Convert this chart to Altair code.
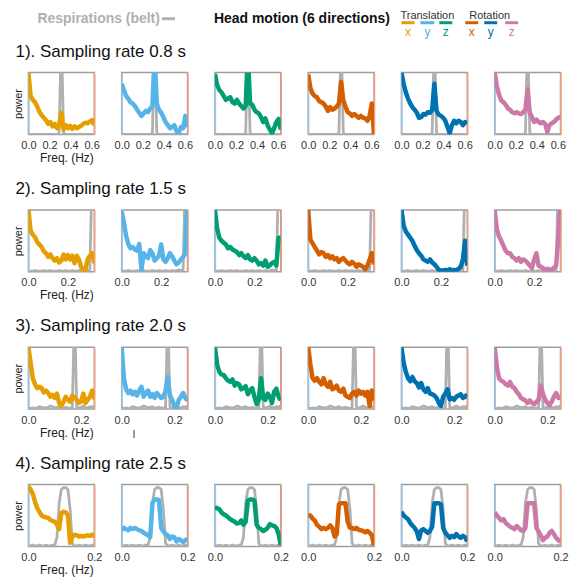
import altair as alt
import numpy as np
import pandas as pd

FONT = "Liberation Sans"

# ---------------- data ----------------
row_titles = ["1). Sampling rate 0.8 s", "2). Sampling rate 1.5 s",
              "3). Sampling rate 2.0 s", "4). Sampling rate 2.5 s"]
nyquist = [0.625, 1 / 3, 0.25, 0.2]
tick_values = [[0.0, 0.2, 0.4, 0.6], [0.0, 0.2], [0.0, 0.2], [0.0, 0.2]]
directions = ["Translation x", "Translation y", "Translation z",
              "Rotation x", "Rotation y", "Rotation z"]
colors = ["#E69F00", "#56B4E9", "#009E73", "#D55E00", "#0072B2", "#CC79A7"]

# respiration (belt) spectra, normalised power
resp_r1 = [0.0, 0.0, 0.0, 0.0, 0.0, 0.0, 0.0, 0.0, 0.0, 0.0, 0.0, 0.0, 0.0, 0.0, 0.02, 1.6,
           0.02, 0.0, 0.0, 0.0, 0.0, 0.0, 0.0, 0.0, 0.0, 0.0, 0.0, 0.0, 0.0, 0.0, 0.0]
resp_r2 = [0.01, 0.01, 0.01, 0.02, 0.01, 0.01, 0.01, 0.02, 0.01, 0.01, 0.02, 0.01, 0.01, 0.01, 0.02, 0.01,
           0.01, 0.02, 0.01, 0.01, 0.02, 0.01, 0.01, 0.02, 0.01, 0.02, 0.03, 0.02, 0.03, 1.6, 1.0]
resp_r3 = [0.01, 0.01, 0.02, 0.01, 0.02, 0.04, 0.03, 0.02, 0.02, 0.03, 0.05, 0.04, 0.02, 0.03, 0.04, 0.02,
           0.02, 0.03, 0.02, 0.01, 0.03, 1.6, 0.03, 0.02, 0.03, 0.05, 0.03, 0.02, 0.04, 0.03, 0.05]
resp_r4 = [0.01, 0.01, 0.02, 0.01, 0.01, 0.02, 0.01, 0.01, 0.02, 0.01, 0.01, 0.02, 0.02, 0.15, 0.7, 0.92,
           0.95, 0.95, 0.92, 0.6, 0.05, 0.01, 0.01, 0.02, 0.01, 0.01, 0.02, 0.01, 0.01, 0.02, 0.01]

# head motion spectra (6 directions) per sampling rate
motion_r1 = [
    [1.0, 0.62, 0.56, 0.52, 0.45, 0.37, 0.31, 0.27, 0.23, 0.17, 0.2, 0.13, 0.17, 0.1, 0.16, 0.35,
     0.08, 0.15, 0.1, 0.14, 0.09, 0.13, 0.1, 0.12, 0.14, 0.17, 0.19, 0.18, 0.21, 0.23, 0.15],
    [0.82, 0.72, 0.62, 0.58, 0.52, 0.5, 0.46, 0.4, 0.35, 0.3, 0.34, 0.38, 0.36, 0.42, 0.45, 1.3,
     0.5, 0.4, 0.35, 0.28, 0.2, 0.15, 0.1, 0.12, 0.15, 0.05, 0.02, 0.12, 0.1, 0.3, 0.12],
    [0.98, 0.8, 0.72, 0.68, 0.62, 0.56, 0.58, 0.6, 0.52, 0.5, 0.56, 0.5, 0.46, 0.42, 0.46, 1.3,
     0.5, 0.48, 0.4, 0.36, 0.34, 0.28, 0.2, 0.26, 0.15, 0.08, 0.02, 0.1, 0.2, 0.25, 0.08],
    [0.97, 0.75, 0.66, 0.62, 0.6, 0.54, 0.52, 0.5, 0.45, 0.38, 0.44, 0.4, 0.42, 0.45, 0.5, 0.85,
     0.55, 0.45, 0.36, 0.34, 0.3, 0.33, 0.3, 0.27, 0.3, 0.27, 0.26, 0.22, 0.3, 0.5, 0.0],
    [1.0, 0.82, 0.68, 0.58, 0.5, 0.44, 0.4, 0.35, 0.27, 0.28, 0.33, 0.32, 0.36, 0.35, 0.4, 0.82,
     0.38, 0.32, 0.3, 0.27, 0.22, 0.12, 0.02, 0.15, 0.22, 0.18, 0.22, 0.2, 0.15, 0.2, 0.18],
    [1.0, 0.78, 0.64, 0.55, 0.52, 0.48, 0.42, 0.4, 0.36, 0.34, 0.36, 0.34, 0.33, 0.36, 0.4, 0.73,
     0.35, 0.28, 0.2, 0.24, 0.2, 0.18, 0.2, 0.17, 0.04, 0.15, 0.18, 0.2, 0.24, 0.27, 0.28],
]
motion_r2 = [
    [1.0, 0.66, 0.6, 0.56, 0.48, 0.44, 0.4, 0.33, 0.3, 0.24, 0.28, 0.22, 0.18, 0.22, 0.15, 0.18,
     0.28, 0.2, 0.27, 0.2, 0.26, 0.14, 0.26, 0.2, 0.08, 0.02, 0.04, 0.2, 0.26, 0.3, 0.14],
    [0.98, 0.8, 0.58, 0.45, 0.38, 0.4, 0.36, 0.34, 0.45, 0.03, 0.3, 0.25, 0.22, 0.35, 0.3, 0.18,
     0.22, 0.26, 0.44, 0.2, 0.16, 0.22, 0.3, 0.25, 0.18, 0.12, 0.15, 0.2, 0.24, 0.3, 1.3],
    [1.0, 0.7, 0.55, 0.5, 0.47, 0.44, 0.38, 0.4, 0.36, 0.34, 0.32, 0.27, 0.3, 0.25, 0.22, 0.27,
     0.2, 0.18, 0.22, 0.18, 0.12, 0.14, 0.1, 0.18, 0.08, 0.1, 0.14, 0.16, 0.1, 0.55, 0.55],
    [1.0, 0.52, 0.46, 0.4, 0.34, 0.28, 0.32, 0.3, 0.24, 0.27, 0.22, 0.25, 0.2, 0.22, 0.16, 0.2,
     0.22, 0.18, 0.14, 0.12, 0.16, 0.13, 0.08, 0.12, 0.1, 0.08, 0.04, 0.1, 0.2, 0.3, 0.12],
    [1.0, 0.75, 0.65, 0.6, 0.55, 0.5, 0.42, 0.35, 0.3, 0.26, 0.2, 0.18, 0.16, 0.2, 0.15, 0.12,
     0.08, 0.03, 0.02, 0.02, 0.03, 0.02, 0.04, 0.02, 0.03, 0.02, 0.05, 0.08, 0.2, 0.5, 0.1],
    [1.0, 0.68, 0.57, 0.5, 0.42, 0.34, 0.3, 0.3, 0.24, 0.22, 0.18, 0.22, 0.16, 0.2, 0.18, 0.14,
     0.1, 0.06, 0.2, 0.3, 0.1, 0.08, 0.06, 0.03, 0.05, 0.03, 0.04, 0.06, 0.1, 0.55, 1.1],
]
motion_r3 = [
    [1.0, 0.75, 0.5, 0.4, 0.34, 0.36, 0.34, 0.27, 0.3, 0.26, 0.2, 0.23, 0.18, 0.25, 0.1, 0.05,
     0.12, 0.2, 0.15, 0.12, 0.22, 0.18, 0.15, 0.1, 0.12, 0.25, 0.1, 0.15, 0.2, 0.3, 0.16],
    [1.0, 0.5, 0.32, 0.26, 0.3, 0.24, 0.28, 0.22, 0.3, 0.36, 0.2, 0.26, 0.3, 0.2, 0.24, 0.18,
     0.26, 0.22, 0.18, 0.2, 0.3, 0.52, 0.22, 0.15, 0.05, 0.02, 0.15, 0.2, 0.26, 0.18, 0.14],
    [1.0, 0.72, 0.6, 0.56, 0.55, 0.5, 0.46, 0.44, 0.48, 0.38, 0.42, 0.4, 0.32, 0.34, 0.37, 0.24,
     0.3, 0.34, 0.2, 0.08, 0.15, 0.5, 0.18, 0.15, 0.25, 0.2, 0.1, 0.28, 0.33, 0.2, 0.14],
    [1.0, 0.72, 0.5, 0.46, 0.5, 0.44, 0.4, 0.5, 0.4, 0.36, 0.44, 0.32, 0.34, 0.38, 0.3, 0.28,
     0.33, 0.22, 0.2, 0.18, 0.25, 0.28, 0.22, 0.3, 0.25, 0.28, 0.22, 0.28, 0.05, 0.3, 0.14],
    [1.0, 0.75, 0.6, 0.5, 0.45, 0.52, 0.45, 0.42, 0.35, 0.42, 0.32, 0.28, 0.34, 0.25, 0.24, 0.22,
     0.18, 0.1, 0.05, 0.2, 0.25, 0.32, 0.16, 0.18, 0.15, 0.2, 0.22, 0.24, 0.18, 0.2, 0.24],
    [1.0, 0.68, 0.5, 0.46, 0.44, 0.4, 0.38, 0.44, 0.36, 0.34, 0.28, 0.24, 0.18, 0.16, 0.14, 0.1,
     0.14, 0.1, 0.08, 0.12, 0.15, 0.38, 0.25, 0.15, 0.1, 0.06, 0.12, 0.2, 0.26, 0.18, 0.2],
]
motion_r4 = [
    [0.97, 0.92, 0.85, 0.72, 0.62, 0.56, 0.5, 0.48, 0.47, 0.46, 0.43, 0.41, 0.4, 0.35, 0.28, 0.54,
     0.56, 0.55, 0.5, 0.06, 0.16, 0.19, 0.18, 0.16, 0.17, 0.16, 0.17, 0.18, 0.17, 0.19, 0.16],
    [0.26, 0.3, 0.28, 0.26, 0.3, 0.28, 0.3, 0.28, 0.26, 0.25, 0.22, 0.2, 0.18, 0.15, 0.7, 0.76,
     0.76, 0.75, 0.3, 0.24, 0.2, 0.18, 0.12, 0.16, 0.15, 0.08, 0.12, 0.1, 0.07, 0.1, 0.12],
    [0.63, 0.62, 0.6, 0.55, 0.52, 0.5, 0.47, 0.44, 0.42, 0.4, 0.37, 0.38, 0.42, 0.35, 0.4, 0.74,
     0.76, 0.76, 0.74, 0.35, 0.3, 0.28, 0.25, 0.27, 0.3, 0.36, 0.34, 0.33, 0.3, 0.2, 0.02],
    [0.5, 0.5, 0.45, 0.42, 0.35, 0.32, 0.28, 0.3, 0.28, 0.3, 0.34, 0.3, 0.16, 0.2, 0.68, 0.7,
     0.7, 0.7, 0.4, 0.3, 0.3, 0.28, 0.3, 0.27, 0.26, 0.25, 0.23, 0.25, 0.22, 0.18, 0.02],
    [0.56, 0.5, 0.47, 0.44, 0.38, 0.34, 0.3, 0.24, 0.12, 0.26, 0.28, 0.25, 0.22, 0.25, 0.32, 0.7,
     0.7, 0.7, 0.68, 0.3, 0.22, 0.18, 0.14, 0.17, 0.15, 0.2, 0.16, 0.14, 0.17, 0.15, 0.08],
    [0.55, 0.5, 0.46, 0.42, 0.44, 0.38, 0.35, 0.32, 0.3, 0.28, 0.33, 0.3, 0.26, 0.25, 0.3, 0.7,
     0.7, 0.7, 0.7, 0.3, 0.24, 0.18, 0.1, 0.14, 0.16, 0.22, 0.25, 0.2, 0.14, 0.1, 0.08],
]
resp_rows = [resp_r1, resp_r2, resp_r3, resp_r4]
motion_rows = [motion_r1, motion_r2, motion_r3, motion_r4]

# ---------------- style ----------------
W, H = 66, 62
GRAY = "#b0b0b0"
LEFT_C = "#9cc8ee"
RIGHT_C = "#f2a283"


def text_layer(s, x, y, size, color, weight="normal", align="left"):
    return alt.Chart(pd.DataFrame({"t": [s]})).mark_text(
        align=align, baseline="middle", fontSize=size, fontWeight=weight,
        color=color, font=FONT
    ).encode(text="t:N", x=alt.value(x), y=alt.value(y))


def dash_layer(x1, x2, y, color):
    return alt.Chart(pd.DataFrame({"d": [0]})).mark_rule(
        color=color, strokeWidth=3
    ).encode(x=alt.value(x1), x2=alt.value(x2), y=alt.value(y))


def header_layers():
    layers = [
        text_layer("Respirations (belt)", 9, -54, 14, GRAY, "bold"),
        dash_layer(134, 147, -54, GRAY),
        text_layer("Head motion (6 directions)", 186, -54, 14, "#111111", "bold"),
        text_layer("Translation", 373, -57, 11, "#333333"),
        text_layer("Rotation", 442, -57, 11, "#333333"),
    ]
    dash_x = [(374, 387), (393, 407), (412, 425), (438, 451), (457, 470), (478, 491)]
    letters = ["x", "y", "z", "x", "y", "z"]
    for (a, b), lt, col in zip(dash_x, letters, colors):
        layers.append(dash_layer(a, b, -50, col))
        layers.append(text_layer(lt, (a + b) / 2, -41, 12, col, align="center"))
    return layers


def panel(r, c):
    n = len(resp_rows[r])
    freq = np.round(np.linspace(0, nyquist[r], n), 5)
    df = pd.DataFrame({"f": freq, "resp": resp_rows[r], "motion": motion_rows[r][c]})
    xenc = alt.X(
        "f:Q",
        scale=alt.Scale(domain=[0, nyquist[r]], nice=False, zero=False),
        axis=alt.Axis(values=tick_values[r], format=".1f",
                      title="Freq. (Hz)" if c == 0 else None,
                      domain=False, ticks=False, grid=False, labelFlush=False,
                      labelOverlap=False, labelPadding=5, titlePadding=2,
                      titleX=38, labelFontSize=11, titleFontSize=12),
    )
    yscale = alt.Scale(domain=[0, 1], nice=False, zero=False)
    resp_line = alt.Chart(df).mark_line(
        color=GRAY, strokeWidth=2.8, clip=True, strokeJoin="round"
    ).encode(
        x=xenc,
        y=alt.Y("resp:Q", scale=yscale,
                axis=alt.Axis(orient="left", title="power" if c == 0 else None,
                              labels=False, ticks=False, grid=False,
                              domainColor=LEFT_C, domainWidth=1.5,
                              titlePadding=5, titleFontSize=11)),
    )
    motion_line = alt.Chart(df).mark_line(
        color=colors[c], strokeWidth=4.5, clip=True, strokeJoin="round"
    ).encode(
        x=xenc,
        y=alt.Y("motion:Q", scale=yscale,
                axis=alt.Axis(orient="right", title=None, labels=False,
                              ticks=False, grid=False,
                              domainColor=RIGHT_C, domainWidth=1.5)),
    )
    layers = [resp_line, motion_line]
    if c == 0:
        layers.append(text_layer(row_titles[r], -13, -21, 17, "#111111"))
    if r == 0 and c == 0:
        layers += header_layers()
    if r == 2 and c == 1:
        layers.append(text_layer("l", 11, 88, 11, "#333333"))
    return alt.layer(*layers).resolve_axis(y="independent").properties(width=W, height=H)


panels = [panel(r, c) for r in range(4) for c in range(6)]
chart = alt.concat(
    *panels, columns=6, spacing={"row": 75.7, "column": 27.5}, bounds="flush"
).properties(
    padding={"left": 3.5, "top": 0, "right": 0, "bottom": 0}
).configure_view(
    stroke="#9e9e9e", strokeWidth=1.5
).configure_axis(
    labelFont=FONT, titleFont=FONT, labelColor="#333333", titleColor="#222222",
    titleFontWeight="normal"
)

chart.save("out.html", embed_options={"renderer": "svg", "actions": False})
